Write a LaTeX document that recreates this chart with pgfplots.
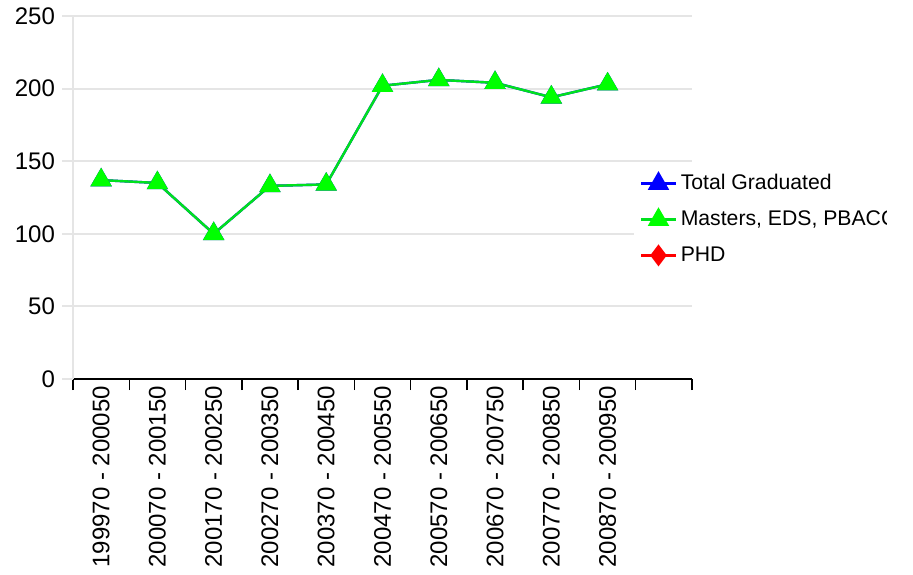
\documentclass[border=0pt]{standalone}
\usepackage{pgfplots}
\pgfplotsset{compat=1.18}
\usepackage{fontspec}
\setmainfont{Liberation Sans}
\definecolor{gridgray}{RGB}{229,229,229}
\definecolor{mgreen}{RGB}{0,255,0}
\definecolor{lgreen}{RGB}{0,225,30}
\begin{document}
\begin{tikzpicture}
\path[use as bounding box] (-36.5pt,-97.5pt) rectangle (420pt,189.5pt);
\begin{axis}[
  at={(0pt,0pt)}, anchor=south west,
  scale only axis, width=309.5pt, height=181.5pt,
  xmin=-0.5, xmax=10.5, ymin=0, ymax=250,
  axis x line=bottom, axis y line=left,
  axis line style={-},
  x axis line style={black, line width=0.75pt},
  y axis line style={gridgray, line width=1pt},
  ytick={0,50,100,150,200,250},
  ymajorgrids, grid style={gridgray, line width=1pt},
  tick align=outside, major tick length=5.5pt,
  y tick style={gridgray, line width=1pt},
  x tick style={black, line width=0.75pt},
  xtick={-0.5,0.5,...,10.5}, xticklabels={},
  extra x ticks={0,1,2,3,4,5,6,7,8,9},
  extra x tick labels={199970 - 200050,200070 - 200150,200170 - 200250,200270 - 200350,200370 - 200450,200470 - 200550,200570 - 200650,200670 - 200750,200770 - 200850,200870 - 200950},
  extra x tick style={major tick length=0pt, tick style={draw=none},
    tick label style={rotate=90, anchor=east, font=\fontsize{12}{14}\selectfont}},
  yticklabel style={font=\fontsize{12}{14}\selectfont},
  /pgf/number format/assume math mode=true,
  legend style={at={(rel axis cs:0.906,0.44)}, anchor=west, draw=none, fill=white,
    font=\fontsize{10.6}{12}\selectfont, row sep=5pt, inner xsep=3pt},
  legend cell align=left,
  clip=false,
]
\addplot[blue, line width=1.2pt, mark=triangle*, mark size=5pt, mark options={fill=blue, draw=blue}]
  coordinates {(0,137)(1,135)(2,100)(3,133)(4,134)(5,202)(6,206)(7,204)(8,194)(9,203)};
\addlegendentry{Total Graduated}
\addplot[lgreen, line width=1.2pt, mark=triangle*, mark size=5pt, mark options={fill=mgreen, draw=mgreen}]
  coordinates {(0,137)(1,135)(2,100)(3,133)(4,134)(5,202)(6,206)(7,204)(8,194)(9,203)};
\addlegendentry{Masters, EDS, PBACC}
\addlegendimage{red, line width=1.2pt, mark=diamond*, mark size=4.5pt, mark options={fill=red, draw=red}}
\addlegendentry{PHD}
\end{axis}
\fill[white] (407pt,50pt) rectangle (421pt,120pt);
\end{tikzpicture}
\end{document}
